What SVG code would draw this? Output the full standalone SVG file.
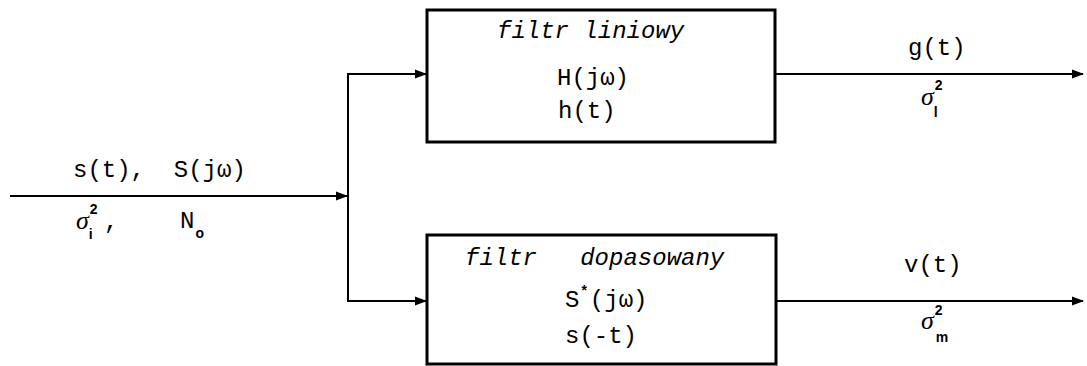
<svg xmlns="http://www.w3.org/2000/svg" width="1087" height="366" viewBox="0 0 1087 366">
  <style>
    .wire { fill: none; stroke: #000; stroke-width: 2; }
    .box { fill: #fff; stroke: #000; stroke-width: 3; }
    .m { font-family: "Liberation Mono", "DejaVu Sans Mono", monospace; font-size: 24px; fill: #000; }
    .it { font-family: "Liberation Mono", "DejaVu Sans Mono", monospace; font-style: italic; font-size: 24px; fill: #000; }
    .sg { font-family: "Liberation Serif", "DejaVu Serif", serif; font-style: italic; font-size: 26px; fill: #000; }
    .sm { font-family: "Liberation Sans", "DejaVu Sans", sans-serif; font-style: normal; font-weight: bold; font-size: 14px; }
  </style>
  <defs>
    <marker id="ah" markerWidth="12" markerHeight="10" refX="11" refY="5" orient="auto" markerUnits="userSpaceOnUse">
      <path d="M0,0.5 L12,5 L0,9.5 Z" fill="#000"/>
    </marker>
  </defs>
  <rect width="1087" height="366" fill="#fff"/>

  <!-- connectors -->
  <g id="connectors">
    <line class="wire" x1="10" y1="196" x2="347" y2="196" marker-end="url(#ah)"/>
    <line class="wire" x1="348" y1="74" x2="348" y2="301"/>
    <line class="wire" x1="347" y1="74" x2="426" y2="74" marker-end="url(#ah)"/>
    <line class="wire" x1="347" y1="301" x2="426" y2="301" marker-end="url(#ah)"/>
    <line class="wire" x1="776" y1="74" x2="1083" y2="74" marker-end="url(#ah)"/>
    <line class="wire" x1="777" y1="301" x2="1083" y2="301" marker-end="url(#ah)"/>
  </g>

  <!-- input signal labels -->
  <g id="input-labels">
    <text class="m" x="73" y="177" xml:space="preserve">s(t),  S(jω)</text>
    <text class="sg" x="76" y="229">σ<tspan class="sm" dx="1" dy="-15">2</tspan><tspan class="sm" dx="-9" dy="25">i</tspan></text>
    <text class="m" x="104" y="229">,</text>
    <text class="m" x="180" y="228">N<tspan class="sm" dx="1" dy="10">o</tspan></text>
  </g>

  <!-- linear filter -->
  <g id="filtr-liniowy">
    <rect class="box" x="427" y="10" width="348" height="132"/>
    <text class="it" x="497" y="38" xml:space="preserve">filtr liniowy</text>
    <text class="m" x="557" y="85">H(jω)</text>
    <text class="m" x="558" y="118">h(t)</text>
  </g>

  <!-- matched filter -->
  <g id="filtr-dopasowany">
    <rect class="box" x="427" y="235" width="349" height="129"/>
    <text class="it" x="465" y="265" xml:space="preserve">filtr   dopasowany</text>
    <text class="m" x="565" y="307">S<tspan class="sm" font-size="20" dx="2" dy="-12">*</tspan><tspan dx="3" dy="12">(jω)</tspan></text>
    <text class="m" x="565" y="343">s(-t)</text>
  </g>

  <!-- output of linear filter -->
  <g id="out-g">
    <text class="m" x="908" y="55">g(t)</text>
    <text class="sg" x="921" y="105">σ<tspan class="sm" dx="1" dy="-15">2</tspan><tspan class="sm" dx="-9" dy="27">l</tspan></text>
  </g>

  <!-- output of matched filter -->
  <g id="out-v">
    <text class="m" x="904" y="272">v(t)</text>
    <text class="sg" x="921" y="329">σ<tspan class="sm" dx="1" dy="-14">2</tspan><tspan class="sm" dx="-7" dy="27">m</tspan></text>
  </g>
</svg>
